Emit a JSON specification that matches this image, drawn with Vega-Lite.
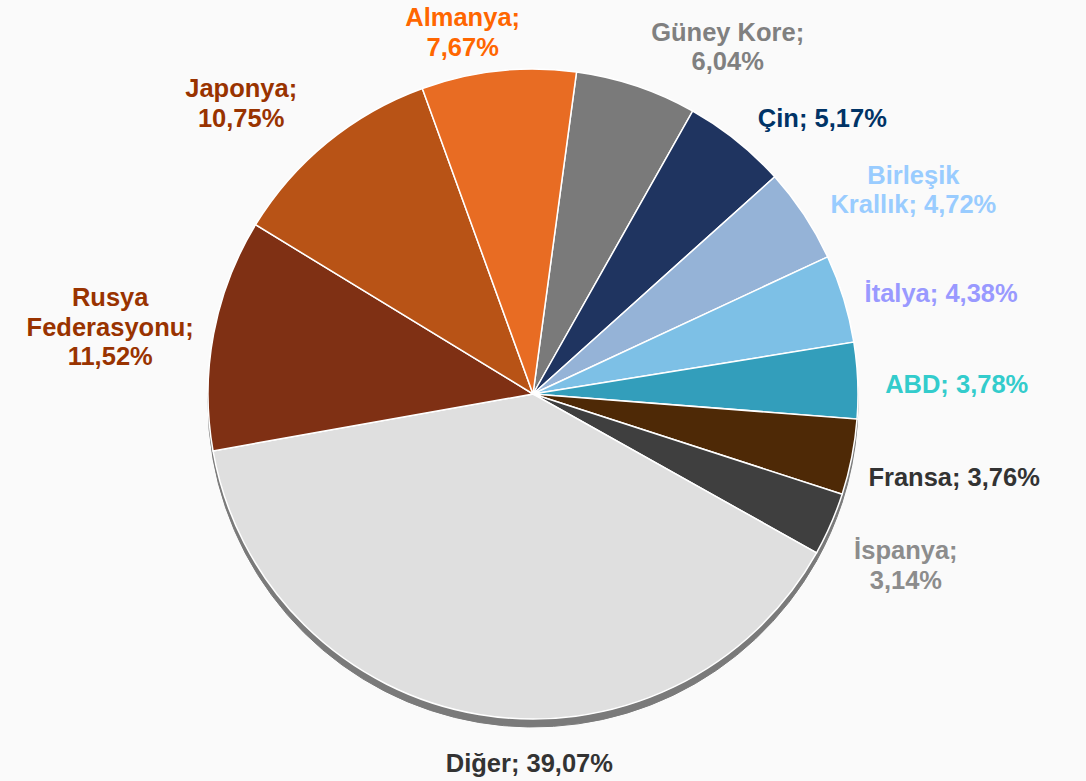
{
  "$schema": "https://vega.github.io/schema/vega-lite/v6.json",
  "width": 1066,
  "height": 776,
  "autosize": {"type": "none"},
  "padding": {"left": 0, "right": 20, "top": 6, "bottom": 0},
  "background": "#FAFAFA",
  "config": {
    "view": {"stroke": null},
    "text": {"font": "Liberation Sans", "fontWeight": "bold", "fontSize": 25.5, "lineHeight": 29.5, "lineBreak": "\n", "align": "center", "baseline": "middle"}
  },
  "data": {
    "values": [
      {"country": "Güney Kore", "value": 6.04, "label": "Güney Kore;\n6,04%"},
      {"country": "Çin", "value": 5.17, "label": "Çin; 5,17%"},
      {"country": "Birleşik Krallık", "value": 4.72, "label": "Birleşik\nKrallık; 4,72%"},
      {"country": "İtalya", "value": 4.38, "label": "İtalya; 4,38%"},
      {"country": "ABD", "value": 3.78, "label": "ABD; 3,78%"},
      {"country": "Fransa", "value": 3.76, "label": "Fransa; 3,76%"},
      {"country": "İspanya", "value": 3.14, "label": "İspanya;\n3,14%"},
      {"country": "Diğer", "value": 39.07, "label": "Diğer; 39,07%"},
      {"country": "Rusya Federasyonu", "value": 11.52, "label": "Rusya\nFederasyonu;\n11,52%"},
      {"country": "Japonya", "value": 10.75, "label": "Japonya;\n10,75%"},
      {"country": "Almanya", "value": 7.67, "label": "Almanya;\n7,67%"}
    ]
  },
  "transform": [{"window": [{"op": "row_number", "as": "rank"}]}],
  "encoding": {
    "theta": {"field": "value", "type": "quantitative", "stack": true, "scale": {"range": [0.1344, 6.4176]}},
    "order": {"field": "rank", "type": "quantitative"}
  },
  "layer": [
    {
      "mark": {"type": "arc", "outerRadius": 325, "yOffset": 8, "color": "#7a7a7a", "stroke": "#7a7a7a", "strokeWidth": 1}
    },
    {
      "mark": {"type": "arc", "outerRadius": 325, "stroke": "#ffffff", "strokeWidth": 1.5},
      "encoding": {
        "color": {
          "field": "country", "type": "nominal", "legend": null,
          "scale": {
            "domain": ["Güney Kore", "Çin", "Birleşik Krallık", "İtalya", "ABD", "Fransa", "İspanya", "Diğer", "Rusya Federasyonu", "Japonya", "Almanya"],
            "range": ["#7A7A7A", "#1F3460", "#95B3D7", "#7DC0E6", "#339EBB", "#4E2906", "#3F3F3F", "#DFDFDF", "#7F3014", "#B85316", "#E86C23"]
          }
        }
      }
    },
    {
      "encoding": {
        "text": {"field": "label"},
        "color": {
          "field": "country", "type": "nominal", "legend": null,
          "scale": {
            "domain": ["Güney Kore", "Çin", "Birleşik Krallık", "İtalya", "ABD", "Fransa", "İspanya", "Diğer", "Rusya Federasyonu", "Japonya", "Almanya"],
            "range": ["#808080", "#003366", "#99CCFF", "#9999FF", "#33CCCC", "#333333", "#8C8C8C", "#333333", "#993300", "#993300", "#FF6600"]
          }
        }
      },
      "layer": [
        {
          "mark": {"type": "text", "radius": 360, "dx": 80, "dy": -20},
          "encoding": {"opacity": {"condition": {"test": "datum.country === 'Güney Kore' || datum.country === 'Birleşik Krallık'", "value": 1}, "value": 0}}
        },
        {
          "mark": {"type": "text", "radius": 360, "dx": 64, "dy": 6},
          "encoding": {"opacity": {"condition": {"test": "datum.country === 'Çin' || datum.country === 'İtalya' || datum.country === 'ABD'", "value": 1}, "value": 0}}
        },
        {
          "mark": {"type": "text", "radius": 360, "dx": 68, "dy": 14},
          "encoding": {"opacity": {"condition": {"test": "datum.country === 'Fransa'", "value": 1}, "value": 0}}
        },
        {
          "mark": {"type": "text", "radius": 360, "dx": 43, "dy": 13},
          "encoding": {"opacity": {"condition": {"test": "datum.country === 'İspanya'", "value": 1}, "value": 0}}
        },
        {
          "mark": {"type": "text", "radius": 360, "dx": -64, "dy": -26},
          "encoding": {"opacity": {"condition": {"test": "datum.country === 'Japonya'", "value": 1}, "value": 0}}
        },
        {
          "mark": {"type": "text", "radius": 360, "dx": -69, "dy": -29},
          "encoding": {"opacity": {"condition": {"test": "datum.country === 'Rusya Federasyonu'", "value": 1}, "value": 0}}
        },
        {
          "mark": {"type": "text", "radius": 370, "dx": -31, "dy": -8},
          "encoding": {"opacity": {"condition": {"test": "datum.country === 'Almanya'", "value": 1}, "value": 0}}
        },
        {
          "mark": {"type": "text", "radius": 370, "dx": 58, "dy": 5},
          "encoding": {"opacity": {"condition": {"test": "datum.country === 'Diğer'", "value": 1}, "value": 0}}
        }
      ]
    }
  ],
  "resolve": {"scale": {"color": "independent"}}
}
